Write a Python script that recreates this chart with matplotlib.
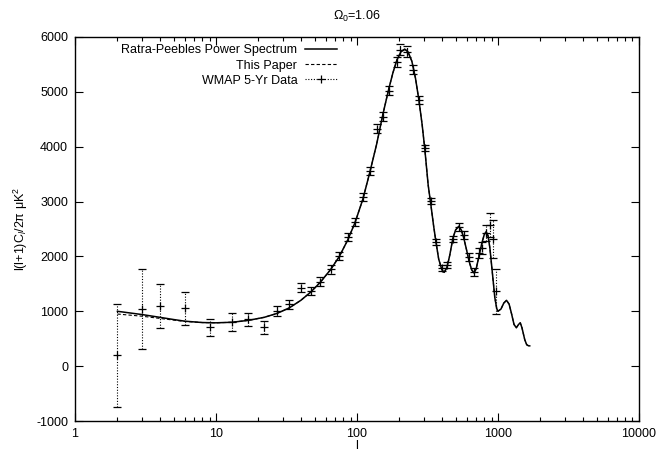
import numpy as np
import matplotlib
matplotlib.use('Agg')
import matplotlib.pyplot as plt
from matplotlib.lines import Line2D
from matplotlib.ticker import FixedLocator, FixedFormatter, LogLocator, NullFormatter

plt.rcParams['font.family'] = ['Liberation Sans', 'DejaVu Sans']
plt.rcParams['mathtext.fontset'] = 'custom'
plt.rcParams['mathtext.rm'] = 'Liberation Sans'
plt.rcParams['mathtext.it'] = 'Liberation Sans:italic'
plt.rcParams['axes.unicode_minus'] = False

# Ratra-Peebles power spectrum
rp_l = [2, 3, 4, 5, 6, 8, 10, 13, 17, 22, 27, 33, 40, 47, 55, 65, 75, 86, 97,
        110, 123, 138, 153, 168, 180, 192, 205, 218, 230, 245, 260, 275, 290,
        303, 320, 334, 350, 364, 380, 400, 415, 434, 455, 479, 500, 527, 550,
        573, 600, 623, 650, 675, 700, 733, 770, 800, 825, 850, 877, 917, 950,
        980, 1000, 1050, 1100, 1150, 1200, 1250, 1300, 1350, 1400, 1440, 1480,
        1550, 1600, 1650, 1680]
rp_cl = [1000, 940, 890, 850, 820, 795, 790, 800, 835, 890, 960, 1060, 1200,
         1350, 1530, 1760, 2000, 2300, 2620, 3040, 3520, 4050, 4600, 5050,
         5350, 5580, 5730, 5780, 5730, 5560, 5250, 4850, 4400, 3950, 3300,
         2950, 2550, 2250, 1950, 1760, 1710, 1790, 2020, 2330, 2480, 2550,
         2480, 2330, 2110, 1920, 1760, 1700, 1770, 2000, 2250, 2400, 2450,
         2380, 2150, 1650, 1250, 1050, 1000, 1040, 1150, 1200, 1130, 950, 760,
         700, 760, 790, 700, 480, 390, 370, 370]

# "This Paper" curve (low-l part, joins the solid curve above l~75)
tp_l = [2, 3, 4, 5, 6, 8, 10, 13, 17, 22, 27, 33, 40, 47, 55, 65, 75]
tp_cl = [950, 910, 870, 840, 815, 795, 790, 800, 835, 890, 960, 1060, 1200,
         1350, 1530, 1760, 2000]

# WMAP 5-yr binned data
wm_l = [2, 3, 4, 6, 9, 13, 17, 22, 27, 33, 40, 47, 55, 65, 75, 86, 97, 110,
        123, 138, 153, 168, 191, 202, 226, 250, 275, 303, 334, 364, 400, 434,
        479, 527, 573, 623, 675, 733, 770, 828, 877, 917, 966]
wm_cl = [200, 1035, 1095, 1052, 706, 809, 852, 706, 1004, 1126, 1429, 1369,
         1539, 1765, 2007, 2354, 2628, 3084, 3558, 4330, 4544, 5018, 5547,
         5770, 5730, 5401, 4854, 3978, 3011, 2263, 1788, 1843, 2318, 2536,
         2390, 1989, 1715, 2062, 2153, 2427, 2573, 2318, 1369]
wm_err = [940, 730, 395, 300, 160, 160, 120, 112, 90, 85, 80, 80, 80, 80, 80,
          80, 80, 80, 80, 80, 80, 80, 90, 100, 100, 80, 70, 60, 55, 55, 55, 60,
          60, 70, 70, 70, 80, 90, 110, 150, 220, 350, 410]

fig = plt.figure(figsize=(6.56, 4.55), dpi=100)
ax = fig.add_axes([0.1143, 0.0747, 0.8597, 0.8440])

ax.plot(rp_l, rp_cl, color='black', lw=1.1, label='Ratra-Peebles Power Spectrum')
tp_full_l = tp_l + rp_l[17:]
tp_full_cl = tp_cl + rp_cl[17:]
ax.plot(tp_full_l, tp_full_cl, color='black', lw=0.8, ls=(0, (3, 2)),
        label='This Paper')

eb = ax.errorbar(wm_l, wm_cl, yerr=wm_err, fmt='+', color='black', ms=6,
                 mew=0.9, elinewidth=0.8, capsize=3, capthick=0.6)
eb[2][0].set_linestyle((0, (1, 1.5)))

handles = [
    Line2D([], [], color='black', lw=1.1),
    Line2D([], [], color='black', lw=0.8, ls=(0, (3, 2))),
    Line2D([], [], color='black', lw=0.8, ls=(0, (1, 1.5)), marker='+', ms=6,
           mew=0.9),
]
labels = ['Ratra-Peebles Power Spectrum', 'This Paper', 'WMAP 5-Yr Data']
ax.legend(handles, labels, loc='upper right', bbox_to_anchor=(0.485, 1.01),
          frameon=False, markerfirst=False, fontsize=9, handlelength=2.6,
          handletextpad=0.6, labelspacing=0.25)

ax.set_xscale('log')
ax.set_xlim(1, 10000)
ax.set_ylim(-1000, 6000)
ax.xaxis.set_major_locator(FixedLocator([1, 10, 100, 1000, 10000]))
ax.xaxis.set_major_formatter(FixedFormatter(['1', '10', '100', '1000', '10000']))
ax.xaxis.set_minor_locator(LogLocator(base=10, subs=np.arange(2, 10)))
ax.xaxis.set_minor_formatter(NullFormatter())
ax.set_yticks(np.arange(-1000, 6001, 1000))

ax.tick_params(which='both', direction='in', top=True, right=True,
               labelsize=9, width=0.8)
ax.tick_params(which='major', length=6, pad=5)
ax.tick_params(which='minor', length=3)
for s in ax.spines.values():
    s.set_linewidth(1.0)

ax.set_title('Ω$_0$=1.06', fontsize=9, pad=12)
ax.set_xlabel('l', fontsize=9, labelpad=0)
ax.set_ylabel('l(l+1)C$_l$/2π μK$^2$', fontsize=9, labelpad=4)

fig.savefig('out.png', dpi=100)
